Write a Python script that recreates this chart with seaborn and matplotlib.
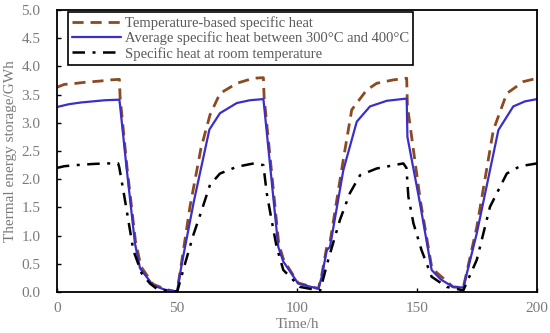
import matplotlib
matplotlib.use("Agg")
import matplotlib.pyplot as plt
import seaborn as sns
import pandas as pd

# ---- data ----
t_temp = [0, 3, 8, 12, 18, 22, 26, 26.3, 29.2, 32.7, 35, 40, 45, 50,
          52, 55.4, 60, 63.75, 67.9, 74.9, 81.8, 86, 86.3, 92.4, 94.5, 100.5, 108.9,
          110.3, 112.4, 113.75, 119.3, 122.8, 129, 133.2, 140, 145.7, 146, 151.4,
          156.2, 165, 169.3, 174.9, 181.8, 187.4, 194.3, 200]
v_temp = [3.63, 3.68, 3.70, 3.72, 3.74, 3.76, 3.77, 3.45, 2.2, 0.9, 0.45, 0.14, 0.05, 0.0,
          0.55, 1.51, 2.55, 3.14, 3.52, 3.70, 3.79, 3.80, 3.45, 0.85, 0.56, 0.16, 0.06,
          0.30, 0.80, 0.88, 2.35, 3.23, 3.58, 3.70, 3.76, 3.79, 3.30, 1.62,
          0.42, 0.09, 0.08, 1.15, 2.87, 3.52, 3.73, 3.79]

t_avg = [0, 5, 10, 15, 20, 26, 26.3, 29, 32.5, 34.6, 40, 45, 48.5, 50,
         52, 57, 63.5, 67.9, 74.9, 80.4, 86, 86.3, 92.2, 94.3, 100.5, 105, 108.9,
         110.3, 112.4, 113.75, 119.3, 124.9, 130.4, 137.4, 145.7, 146, 151.25,
         156.1, 160, 165, 169.3, 174.9, 183.9, 190.1, 195, 200]
v_avg = [3.28, 3.33, 3.36, 3.38, 3.40, 3.41, 3.30, 2.2, 0.86, 0.42, 0.12, 0.04, 0.02, 0.0,
         0.5, 1.6, 2.88, 3.17, 3.35, 3.40, 3.42, 3.30, 0.80, 0.54, 0.15, 0.10, 0.06,
         0.27, 0.74, 0.80, 2.16, 3.02, 3.29, 3.39, 3.43, 2.75, 1.57,
         0.39, 0.22, 0.09, 0.08, 1.04, 2.87, 3.29, 3.38, 3.42]

t_room = [0, 3, 8, 15, 20, 25.5, 26, 27.6, 29.7, 31.8, 35.3, 38.75, 41.5, 48.5,
          50.2, 53, 56.8, 60.3, 63.75, 67.9, 74.9, 82, 86, 87.4, 89.4, 91.5, 94.3,
          98.5, 101.25, 108.9, 109.6, 113, 117.9, 122, 126.25, 133.2, 144.3, 145.6,
          146.4, 148.5, 151.9, 156.1, 162.4, 169.3, 174.9, 180.4, 187.4, 192.9, 200]
v_room = [2.20, 2.23, 2.25, 2.27, 2.28, 2.28, 2.20, 1.81, 1.28, 0.74, 0.33, 0.15, 0.06, 0.0,
          0.02, 0.45, 1.01, 1.45, 1.90, 2.10, 2.22, 2.28, 2.25, 1.75, 1.28, 0.80, 0.39,
          0.21, 0.09, 0.03, 0.02, 0.57, 1.28, 1.75, 2.07, 2.19, 2.28, 2.20,
          1.69, 1.22, 0.74, 0.27, 0.09, 0.03, 0.57, 1.51, 2.10, 2.23, 2.28]

labels = ["Temperature-based specific heat",
          "Average specific heat between 300\u00b0C and 400\u00b0C",
          "Specific heat at room temperature"]
x_ticks = [0, 50, 100, 150, 200]
y_ticks = [0.0, 0.5, 1.0, 1.5, 2.0, 2.5, 3.0, 3.5, 4.0, 4.5, 5.0]

# ---- plot ----
sns.set_style("ticks")
plt.rcParams["font.family"] = ["Liberation Serif", "DejaVu Serif"]

fig = plt.figure(figsize=(5.5, 3.33), dpi=100)
ax = fig.add_axes([0.1036, 0.1231, 0.8728, 0.8469])

df_temp = pd.DataFrame({"t": t_temp, "v": v_temp})
df_avg = pd.DataFrame({"t": t_avg, "v": v_avg})
df_room = pd.DataFrame({"t": t_room, "v": v_room})

sns.lineplot(data=df_temp, x="t", y="v", ax=ax, color="#8B4A1F", lw=2.0,
             label=labels[0], sort=False, estimator=None)
sns.lineplot(data=df_avg, x="t", y="v", ax=ax, color="#3A2FC8", lw=1.6,
             label=labels[1], sort=False, estimator=None)
sns.lineplot(data=df_room, x="t", y="v", ax=ax, color="black", lw=1.8,
             label=labels[2], sort=False, estimator=None)
lines = ax.get_lines()
lines[0].set_dashes([4, 2.5])
lines[2].set_dashes([5, 3, 1.2, 3])

ax.set_xlim(0, 200)
ax.set_ylim(0, 5)
ax.set_xticks(x_ticks)
ax.set_yticks(y_ticks)
ax.set_yticklabels([f"{v:.1f}" for v in y_ticks])
ax.tick_params(direction="in", length=3, width=1, colors="black",
               labelcolor="#7a7a7a", labelsize=11, top=False, right=False)
ax.tick_params(axis="x", pad=7)
ax.tick_params(axis="y", pad=12)
for s in ax.spines.values():
    s.set_visible(True)
    s.set_linewidth(1.3)
    s.set_color("black")
ax.set_xlabel("Time/h", fontsize=11, color="#7a7a7a", labelpad=2)
ax.set_ylabel("Thermal energy storage/GWh", fontsize=11, color="#7a7a7a", labelpad=3)

leg = ax.legend(loc="upper left", bbox_to_anchor=(0.023, 0.993), fontsize=10.5,
                frameon=True, fancybox=False, framealpha=1, edgecolor="black",
                handlelength=3.3, borderpad=0.3, labelspacing=0.1,
                handletextpad=0.3, borderaxespad=0)
leg.get_frame().set_linewidth(1.2)
for txt in leg.get_texts():
    txt.set_color("#595959")

fig.savefig("out.png", dpi=100)
